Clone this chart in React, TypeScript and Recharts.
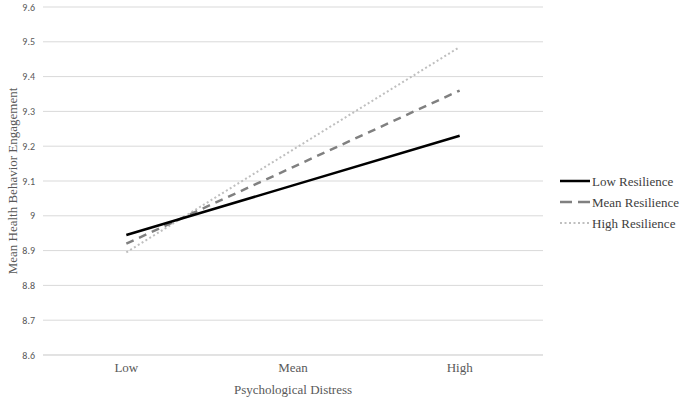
import React from "react";
import { LineChart, Line, XAxis, YAxis, CartesianGrid, Label } from "recharts";

const categories = ["Low", "Mean", "High"];
const lowResilience = [8.945, 9.0875, 9.23];
const meanResilience = [8.92, 9.14, 9.36];
const highResilience = [8.895, 9.19, 9.485];
const yTicks = [8.6, 8.7, 8.8, 8.9, 9.0, 9.1, 9.2, 9.3, 9.4, 9.5, 9.6];
const seriesNames = ["Low Resilience", "Mean Resilience", "High Resilience"];

const data = categories.map((c, i) => ({
  name: c,
  low: lowResilience[i],
  mean: meanResilience[i],
  high: highResilience[i],
}));

const serif = "'Liberation Serif', 'Times New Roman', serif";
const sans = "Carlito, 'Liberation Sans', Arial, sans-serif";

const legendStyles = [
  { stroke: "#000000", dash: undefined as string | undefined, width: 2.5 },
  { stroke: "#808080", dash: "12 6", width: 2.5 },
  { stroke: "#bfbfbf", dash: "2 2.5", width: 2 },
];

export default function App() {
  return (
    <div style={{ position: "absolute", left: 0, top: 0, width: 685, height: 401, background: "#fff" }}>
      <LineChart
        width={685}
        height={401}
        data={data}
        margin={{ top: 7, right: 142, left: 0, bottom: 0 }}
      >
        <CartesianGrid vertical={false} stroke="#d9d9d9" strokeWidth={1} />
        <XAxis
          dataKey="name"
          scale="band"
          height={46}
          tickLine={false}
          axisLine={{ stroke: "#d9d9d9" }}
          tick={{ fill: "#595959", fontFamily: serif, fontSize: 13 }}
        >
          <Label
            content={(props: any) => {
              const vb = props.viewBox || {};
              return (
                <text
                  x={vb.x + vb.width / 2}
                  y={394}
                  textAnchor="middle"
                  fill="#595959"
                  fontFamily={serif}
                  fontSize={13}
                >
                  Psychological Distress
                </text>
              );
            }}
          />
        </XAxis>
        <YAxis
          width={43}
          domain={[8.6, 9.6]}
          ticks={yTicks}
          interval={0}
          tickLine={false}
          axisLine={false}
          tickFormatter={(v: number) => String(Math.round(v * 10) / 10)}
          tick={{ fill: "#595959", fontFamily: sans, fontSize: 10 }}
        >
          <Label
            content={(props: any) => {
              const vb = props.viewBox || {};
              const cx = 12;
              const cy = vb.y + vb.height / 2;
              return (
                <text
                  x={cx}
                  y={cy}
                  transform={`rotate(-90 ${cx} ${cy})`}
                  textAnchor="middle"
                  dominantBaseline="central"
                  fill="#595959"
                  fontFamily={serif}
                  fontSize={13}
                >
                  Mean Health Behavior Engagement
                </text>
              );
            }}
          />
        </YAxis>
        <Line
          type="linear"
          dataKey="high"
          name={seriesNames[2]}
          stroke="#bfbfbf"
          strokeWidth={2}
          strokeDasharray="2 2.5"
          dot={false}
          isAnimationActive={false}
        />
        <Line
          type="linear"
          dataKey="mean"
          name={seriesNames[1]}
          stroke="#808080"
          strokeWidth={2.5}
          strokeDasharray="8 6"
          dot={false}
          isAnimationActive={false}
        />
        <Line
          type="linear"
          dataKey="low"
          name={seriesNames[0]}
          stroke="#000000"
          strokeWidth={2.5}
          dot={false}
          isAnimationActive={false}
        />
      </LineChart>
      <svg
        width={130}
        height={70}
        style={{ position: "absolute", left: 555, top: 170 }}
      >
        {seriesNames.map((n, i) => {
          const y = 11 + i * 21;
          const s = legendStyles[i];
          return (
            <g key={n}>
              <line
                x1={5}
                x2={35}
                y1={y}
                y2={y}
                stroke={s.stroke}
                strokeWidth={s.width}
                strokeDasharray={s.dash}
              />
              <text
                x={37}
                y={y}
                dominantBaseline="central"
                fill="#404040"
                fontFamily={serif}
                fontSize={13}
              >
                {n}
              </text>
            </g>
          );
        })}
      </svg>
    </div>
  );
}
